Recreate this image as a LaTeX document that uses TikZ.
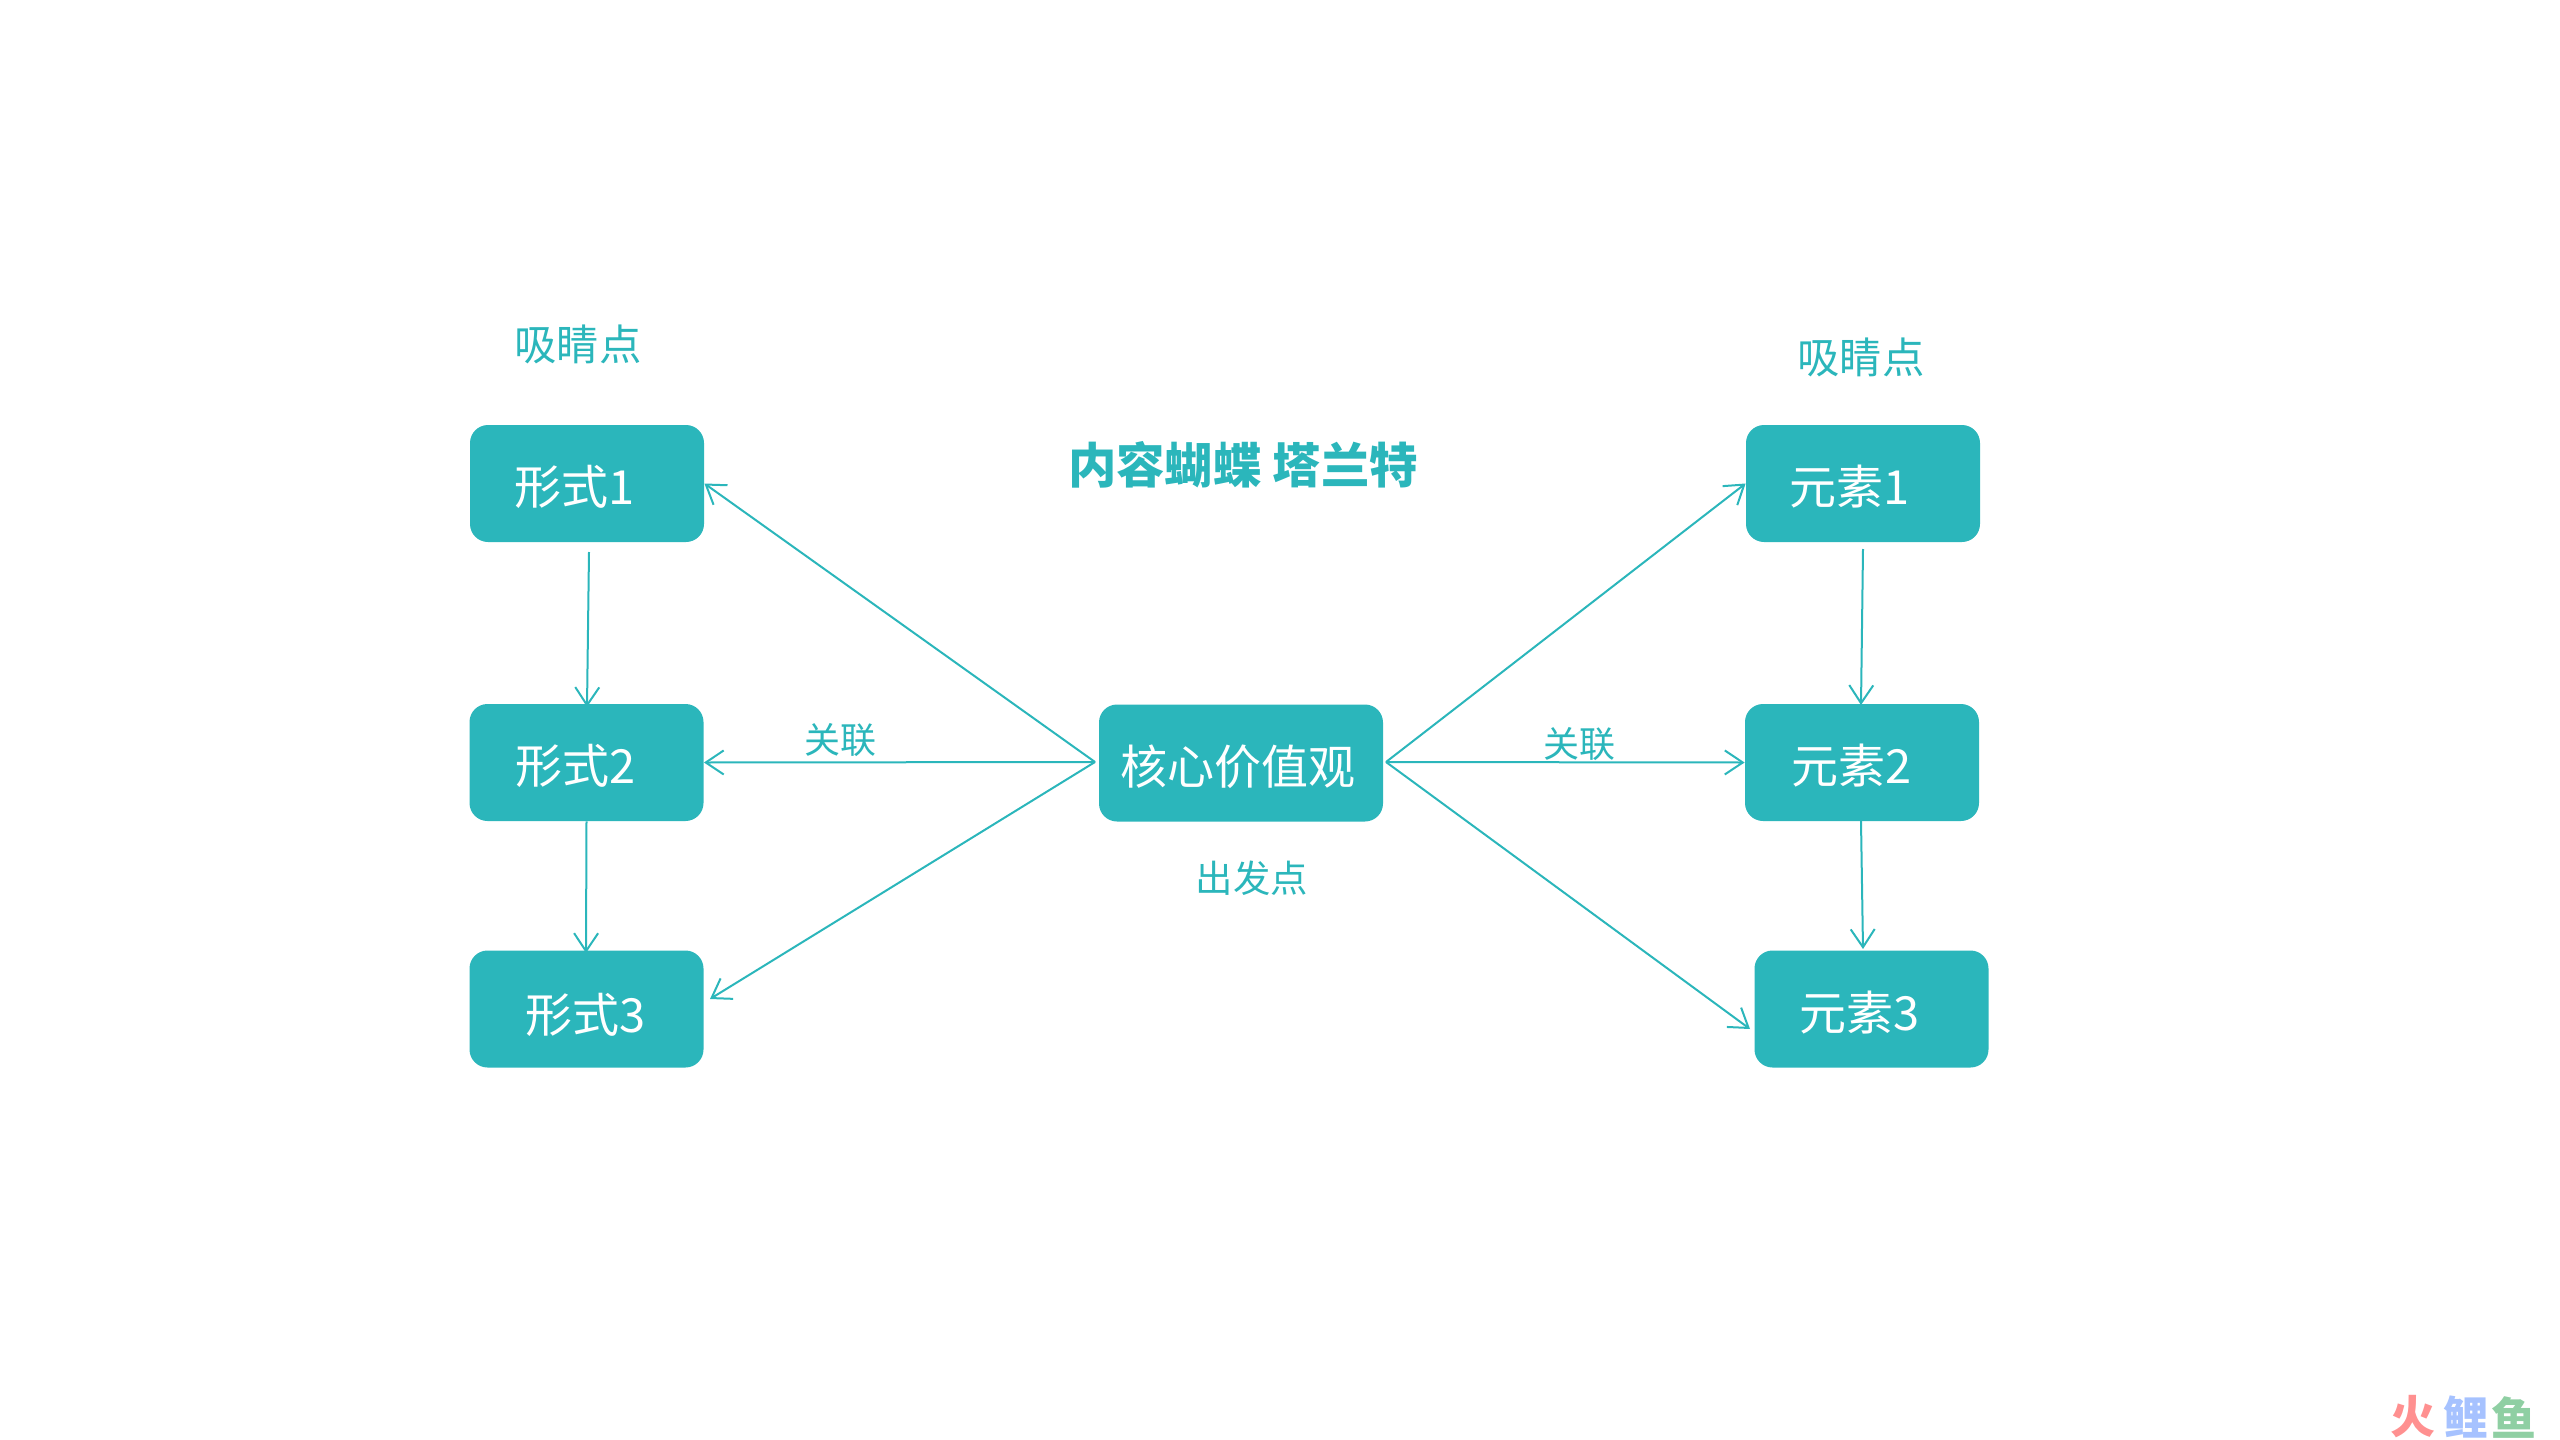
\documentclass[tikz,border=0pt]{standalone}
\usepackage{fontspec}
\usetikzlibrary{arrows.meta}
\setmainfont{Noto Sans CJK SC}
\definecolor{teal1}{HTML}{2BB6BB}
\definecolor{wmred}{HTML}{FF9090}
\definecolor{wmblue}{HTML}{A6C2FF}
\definecolor{wmgreen}{HTML}{8FCFA3}
\newcommand{\tiletext}[3][-10.6pt]{\makebox[0pt][c]{\hspace*{#2}\raisebox{#1}[0pt][0pt]{#3}}}
\tikzset{
  x=0.5pt,y=-0.5pt,
  tile/.style={fill=teal1,rounded corners=9pt,minimum width=117pt,minimum height=58.5pt,inner sep=0pt,text=white,font=\fontsize{23.5}{26}\selectfont},
  corebox/.style={tile,minimum width=142pt},
  caption/.style={text=teal1,inner sep=0pt,font=\fontsize{21.2}{24}\selectfont},
  small/.style={text=teal1,inner sep=0pt,font=\fontsize{18}{22}\selectfont},
  smallb/.style={text=teal1,inner sep=0pt,font=\fontsize{18.7}{22}\selectfont},
  title/.style={text=teal1,inner sep=0pt,font=\fontsize{24.2}{28}\bfseries\selectfont},
  link/.style={draw=teal1,line width=1pt,-{Straight Barb[length=9pt,width=12pt,line width=1pt]}},
  mark1/.style={inner sep=0pt,font=\fontsize{22.5}{26}\bfseries\selectfont}
}
\begin{document}
\begin{tikzpicture}
\useasboundingbox (0,0) rectangle (2560,1440);
\node[tile] (f1) at (587,483.5) {\tiletext{-12pt}{形式1}};
\node[tile] (f2) at (586.5,762.5) {\tiletext{-11pt}{形式2}};
\node[tile] (f3) at (586.5,1009) {\tiletext[-11.6pt]{-1pt}{形式3}};
\node[corebox] (core) at (1241,763) {\tiletext[-10.6pt]{-3pt}{核心价值观}};
\node[tile] (y1) at (1863,483.5) {\tiletext{-13pt}{元素1}};
\node[tile] (y2) at (1862,762.5) {\tiletext{-10pt}{元素2}};
\node[tile] (y3) at (1871.5,1009) {\tiletext{-11.5pt}{元素3}};

\node[caption] (ca) at (578,344) {吸睛点};
\node[caption] (cb) at (1861,357) {吸睛点};
\node[title] (ti) at (1243,465) {内容蝴蝶 塔兰特};
\node[small] (ga) at (840,740) {关联};
\node[small] (gb) at (1579,744) {关联};
\node[smallb] (start) at (1252,878) {出发点};

\coordinate (hl) at (1095,762);
\coordinate (hr) at (1386,762);
\coordinate (f3in) at (710,999);
\coordinate (y3in) at (1750,1029);
\coordinate (f1out) at (589,552);
\coordinate (f2in) at (587,707);
\coordinate (f3top) at (586,953);
\coordinate (y1out) at (1863,549);
\coordinate (y2in) at (1861,705);
\coordinate (y2out) at (1861,821);
\coordinate (y3top) at (1863,949);

\draw[link] (hl) -- (f1.east);
\draw[link] (hl) -- (f2.east);
\draw[link] (hl) -- (f3in);
\draw[link] (hr) -- (y1.west);
\draw[link] (hr) -- (y2.west);
\draw[link] (hr) -- (y3in);
\draw[link] (f1out) -- (f2in);
\draw[link] (f2.south) -- (f3top);
\draw[link] (y1out) -- (y2in);
\draw[link] (y2out) -- (y3top);

\node[mark1,text=wmred] (w1) at (2413,1417) {火};
\node[mark1,text=wmblue] (w2) at (2466,1417) {鲤};
\node[mark1,text=wmgreen] (w3) at (2514,1417) {鱼};
\end{tikzpicture}
\end{document}
